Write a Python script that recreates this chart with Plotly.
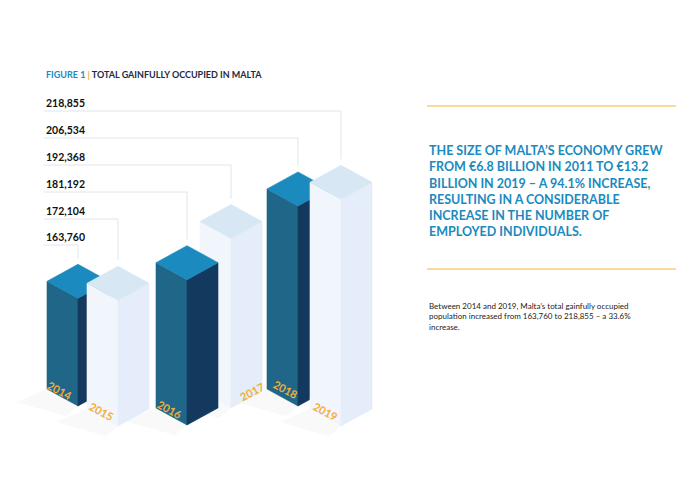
import plotly.graph_objects as go

years = ["2014", "2015", "2016", "2017", "2018", "2019"]
employed = [163760, 172104, 181192, 192368, 206534, 218855]
value_labels = ["163,760", "172,104", "181,192", "192,368", "206,534", "218,855"]

# layout of the isometric drawing (pixel space)
mid_x = [78, 118, 187, 231, 298, 341]
base_y = [406, 426, 425, 408, 406, 426]
dark = [True, False, True, False, True, False]
half_w, skew = 31, 17
scale, v0 = 0.00216, 113900

fig = go.Figure()

def poly(xs, ys, color):
    fig.add_trace(go.Scatter(x=xs + [xs[0]], y=ys + [ys[0]], mode="lines", fill="toself",
                             fillcolor=color, line=dict(width=0.6, color=color),
                             hoverinfo="skip", showlegend=False))

order = sorted(range(len(years)), key=lambda i: base_y[i])
for i in order:
    m, b = mid_x[i], base_y[i]
    h = scale * (employed[i] - v0)
    t = b - h
    if dark[i]:
        cl, cr, ct = "#1f6688", "#13395e", "#1a8abf"
    else:
        cl, cr, ct = "#f1f6fd", "#e4edf9", "#d7e8f4"
    # soft shadow
    poly([m - half_w, m, m - 12, m - half_w - 30],
         [b - skew, b, b + 10, b - 4], "rgba(0,0,0,0.025)")
    poly([m - half_w, m, m, m - half_w], [t - skew, t, b, b - skew], cl)
    poly([m, m + half_w, m + half_w, m], [t, t - skew, b - skew, b], cr)
    poly([m - half_w, m, m + half_w, m], [t - skew, t, t - skew, t - 2 * skew], ct)

# leader lines and value labels
label_y = [237, 211, 184, 157, 130, 103]
for i in range(len(years)):
    ly = label_y[i] + 8
    top = base_y[i] - scale * (employed[i] - v0) - 2 * skew - 6
    fig.add_trace(go.Scatter(x=[44, mid_x[i], mid_x[i]], y=[ly, ly, top], mode="lines",
                             line=dict(color="#dfe5ec", width=1), hoverinfo="skip", showlegend=False))
    fig.add_annotation(x=44, y=label_y[i], text="<b>" + value_labels[i] + "</b>", showarrow=False,
                       xanchor="left", yanchor="middle", font=dict(size=10.5, color="#111111"))

# year labels on bar faces
year_pos = [(60, 390, 28), (102, 411, 28), (170, 409, 28), (252, 391, -28), (286, 389, 28), (326, 411, 28)]
for (x, y, a), yr in zip(year_pos, years):
    fig.add_annotation(x=x, y=y, text="<b>" + yr + "</b>", showarrow=False, textangle=a,
                       font=dict(size=11, color="#f2ad3a"))

fig.add_annotation(x=44, y=74, xanchor="left", showarrow=False,
                   text="<b><span style='color:#1a8abf'>FIGURE 1</span> <span style='color:#f2ad3a'>|</span> TOTAL GAINFULLY OCCUPIED IN MALTA</b>",
                   font=dict(size=9, color="#1d2a44"))

for y in [106, 269]:
    fig.add_shape(type="line", x0=427, x1=684, y0=y, y1=y, line=dict(color="#f2b640", width=1.2))

fig.add_annotation(x=427, y=191, xanchor="left", yanchor="middle", showarrow=False, align="left",
                   text="<b>THE SIZE OF MALTA’S ECONOMY GREW<br>FROM €6.8 BILLION IN 2011 TO €13.2<br>BILLION IN 2019 – A 94.1% INCREASE,<br>RESULTING IN A CONSIDERABLE<br>INCREASE IN THE NUMBER OF<br>EMPLOYED INDIVIDUALS.</b>",
                   font=dict(size=12.5, color="#1a8abf"))
fig.add_annotation(x=427, y=316, xanchor="left", yanchor="middle", showarrow=False, align="left",
                   text="Between 2014 and 2019, Malta’s total gainfully occupied<br>population increased from 163,760 to 218,855 – a 33.6%<br>increase.",
                   font=dict(size=8, color="#222222"))

# page body has an 8px margin, so shift the pixel frame accordingly
fig.update_layout(width=684, height=482, margin=dict(l=0, r=0, t=0, b=0),
                  paper_bgcolor="white", plot_bgcolor="white",
                  font=dict(family="Lato"),
                  xaxis=dict(range=[8, 692], visible=False, fixedrange=True),
                  yaxis=dict(range=[490, 8], visible=False, fixedrange=True))
fig.write_html("out.html")
